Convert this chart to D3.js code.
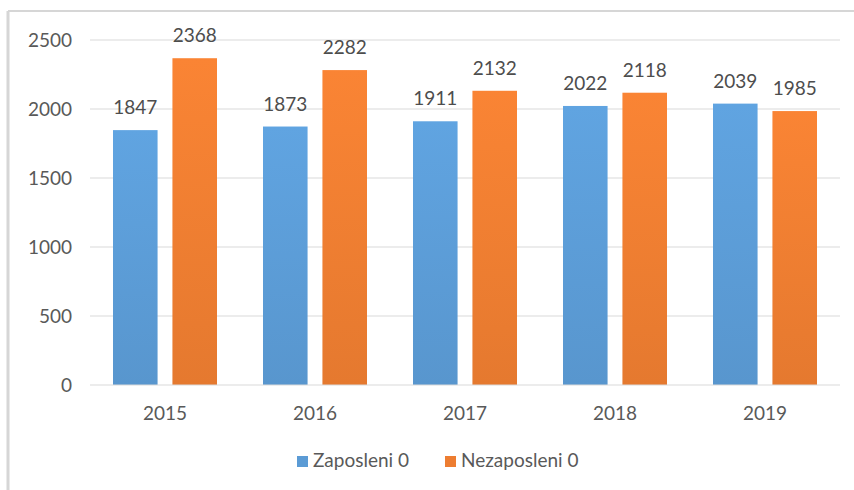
<!DOCTYPE html>
<html>
<head>
<meta charset="utf-8">
<script src="https://cdn.jsdelivr.net/npm/d3@7"></script>
<style>
  body { margin: 0; background: #fff; }
  svg text { font-family: Lato, "Open Sans", sans-serif; }
</style>
</head>
<body>
<svg id="canvas" width="854" height="490"></svg>
<script>
let years = ['2015', '2016', '2017', '2018', '2019']
let zaposleni = [1847, 1873, 1911, 2022, 2039]
let nezaposleni = [2368, 2282, 2132, 2118, 1985]
let seriesNames = ['Zaposleni 0', 'Nezaposleni 0']
let yTicks = [0, 500, 1000, 1500, 2000, 2500]

let colors = ['#5b9bd5', '#ed7d31']

let svg = d3.select('#canvas')

// frame (top and left edges only visible)
svg.append('line').attr('x1', 8).attr('x2', 854).attr('y1', 11).attr('y2', 11)
   .attr('stroke', '#d6d6d6').attr('stroke-width', 2)
svg.append('line').attr('x1', 8).attr('x2', 8).attr('y1', 11).attr('y2', 490)
   .attr('stroke', '#d6d6d6').attr('stroke-width', 3)

let plotLeft = 90, plotRight = 840, plotTop = 40, plotBottom = 385

let x = d3.scaleBand().domain(years).range([plotLeft, plotRight]).paddingInner(0).paddingOuter(0)
let inner = d3.scaleBand().domain([0, 1]).range([x.bandwidth() / 2 - 52, x.bandwidth() / 2 + 52]).paddingInner(0.25)
let y = d3.scaleLinear().domain([0, 2500]).range([plotBottom, plotTop])

// gradient per series
let defs = svg.append('defs')
colors.forEach((c, i) => {
    let g = defs.append('linearGradient').attr('id', 'g' + i)
        .attr('x1', 0).attr('x2', 0).attr('y1', 0).attr('y2', 1)
    g.append('stop').attr('offset', '0%').attr('stop-color', d3.color(c).brighter(0.15))
    g.append('stop').attr('offset', '100%').attr('stop-color', d3.color(c).darker(0.1))
})

// gridlines
svg.selectAll('.grid')
   .data(yTicks.filter(t => t > 0))
   .enter()
   .append('line')
   .attr('x1', plotLeft).attr('x2', plotRight)
   .attr('y1', d => y(d)).attr('y2', d => y(d))
   .attr('stroke', '#d9d9d9').attr('stroke-width', 1)

// y labels
svg.selectAll('.ylab')
   .data(yTicks)
   .enter()
   .append('text')
   .attr('x', 72)
   .attr('y', d => y(d) + 7)
   .attr('text-anchor', 'end')
   .attr('font-size', 19)
   .attr('fill', '#595959')
   .text(d => d)

let seriesData = [zaposleni, nezaposleni]

seriesData.forEach((vals, s) => {
    let g = svg.append('g')
    g.selectAll('rect')
     .data(vals)
     .enter()
     .append('rect')
     .attr('x', (d, i) => x(years[i]) + inner(s))
     .attr('y', d => y(d))
     .attr('width', inner.bandwidth())
     .attr('height', d => plotBottom - y(d))
     .attr('fill', 'url(#g' + s + ')')
    g.selectAll('text')
     .data(vals)
     .enter()
     .append('text')
     .attr('x', (d, i) => x(years[i]) + inner(s) + inner.bandwidth() / 2)
     .attr('y', d => y(d) - 16)
     .attr('text-anchor', 'middle')
     .attr('font-size', 19)
     .attr('fill', '#4d4d4d')
     .text(d => d)
})

// baseline
svg.append('line').attr('x1', plotLeft).attr('x2', plotRight).attr('y1', plotBottom).attr('y2', plotBottom)
   .attr('stroke', '#d9d9d9').attr('stroke-width', 1)

// x labels
svg.selectAll('.xlab')
   .data(years)
   .enter()
   .append('text')
   .attr('x', d => x(d) + x.bandwidth() / 2)
   .attr('y', 420)
   .attr('text-anchor', 'middle')
   .attr('font-size', 19)
   .attr('fill', '#595959')
   .text(d => d)

// legend
let legendX = [297, 445]
seriesNames.forEach((n, i) => {
    svg.append('rect').attr('x', legendX[i]).attr('y', 456).attr('width', 11).attr('height', 11)
       .attr('fill', colors[i])
    svg.append('text').attr('x', legendX[i] + 16).attr('y', 467)
       .attr('font-size', 19).attr('fill', '#595959').text(n)
})
</script>
</body>
</html>
